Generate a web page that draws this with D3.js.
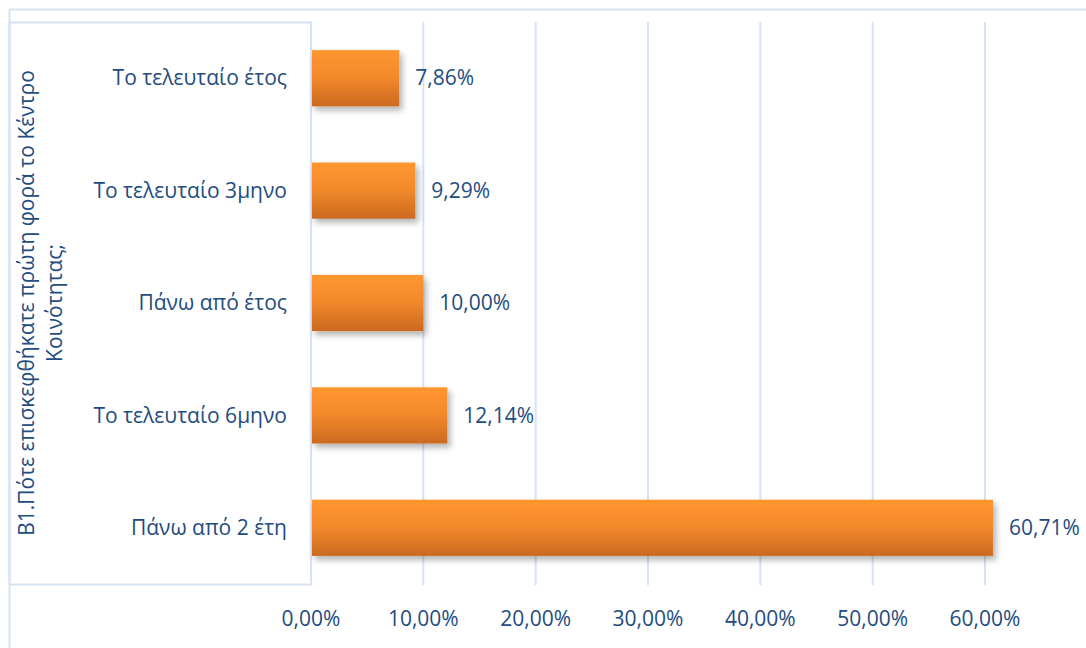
<!DOCTYPE html>
<html><head><meta charset="utf-8">
<script src="https://cdn.jsdelivr.net/npm/d3@7"></script>
<style>
body{margin:0;background:#fff;}
svg{display:block;}
text{font-family:"Open Sans",sans-serif;fill:#234C80;}
</style></head>
<body>
<svg id="chart" width="1086" height="648"></svg>
<script>
const categories = ["Το τελευταίο έτος","Το τελευταίο 3μηνο","Πάνω από έτος","Το τελευταίο 6μηνο","Πάνω από 2 έτη"];
const values = [7.86, 9.29, 10.00, 12.14, 60.71];
const valueLabels = ["7,86%","9,29%","10,00%","12,14%","60,71%"];
const ticks = [0,10,20,30,40,50,60];
const tickLabels = ["0,00%","10,00%","20,00%","30,00%","40,00%","50,00%","60,00%"];
const titleLines = ["Β1.Πότε επισκεφθήκατε πρώτη φορά το Κέντρο","Κοινότητας;"];

const svg = d3.select("#chart");
const lineColor = "#D6E3F3";
const fs = 21;

const x = d3.scaleLinear().domain([0,60]).range([311,985]);
const y = d3.scaleBand().domain(categories).range([22,584]).paddingInner(0.5).paddingOuter(0.25);

const defs = svg.append("defs");
const g = defs.append("linearGradient").attr("id","barGrad").attr("x1",0).attr("y1",0).attr("x2",0).attr("y2",1);
g.append("stop").attr("offset","0%").attr("stop-color","#FF962F");
g.append("stop").attr("offset","45%").attr("stop-color","#F48A2C");
g.append("stop").attr("offset","100%").attr("stop-color","#CB6A20");
const f = defs.append("filter").attr("id","shadow").attr("x","-10%").attr("y","-30%").attr("width","130%").attr("height","180%");
f.append("feDropShadow").attr("dx",3).attr("dy",4).attr("stdDeviation",3).attr("flood-color","#000").attr("flood-opacity",0.3);

// outer frame lines
svg.append("line").attr("x1",9.5).attr("x2",1086).attr("y1",9.5).attr("y2",9.5).attr("stroke",lineColor).attr("stroke-width",2);
svg.append("line").attr("x1",9.5).attr("x2",9.5).attr("y1",9.5).attr("y2",648).attr("stroke",lineColor).attr("stroke-width",2);

// inner label box
svg.append("rect").attr("x",9.5).attr("y",22.5).attr("width",x(0)-9.5).attr("height",562)
  .attr("fill","none").attr("stroke",lineColor).attr("stroke-width",2);

// gridlines
svg.append("g").selectAll("line").data(ticks).join("line")
  .attr("x1",d=>x(d)).attr("x2",d=>x(d)).attr("y1",22).attr("y2",585)
  .attr("stroke",lineColor).attr("stroke-width",2);

// bars
svg.append("g").selectAll("rect").data(values).join("rect")
  .attr("x",x(0)+1).attr("y",(d,i)=>y(categories[i]))
  .attr("width",d=>x(d)-x(0)-1).attr("height",y.bandwidth())
  .attr("fill","url(#barGrad)").attr("filter","url(#shadow)");

// value labels
svg.append("g").selectAll("text").data(values).join("text")
  .attr("x",d=>x(d)+16).attr("y",(d,i)=>y(categories[i])+y.bandwidth()/2)
  .attr("dy","0.34em").attr("font-size",fs).text((d,i)=>valueLabels[i]);

// category labels
svg.append("g").selectAll("text").data(categories).join("text")
  .attr("x",287).attr("y",d=>y(d)+y.bandwidth()/2).attr("dy","0.34em")
  .attr("text-anchor","end").attr("font-size",fs).text(d=>d);

// x tick labels
svg.append("g").selectAll("text").data(ticks).join("text")
  .attr("x",d=>x(d)).attr("y",626).attr("text-anchor","middle")
  .attr("font-size",fs).text((d,i)=>tickLabels[i]);

// axis title
const cy = 303;
svg.append("g").selectAll("text").data(titleLines).join("text")
  .attr("transform",(d,i)=>`translate(${34+i*28},${cy}) rotate(-90)`)
  .attr("text-anchor","middle").attr("font-size",fs).text(d=>d);
</script>
</body></html>
